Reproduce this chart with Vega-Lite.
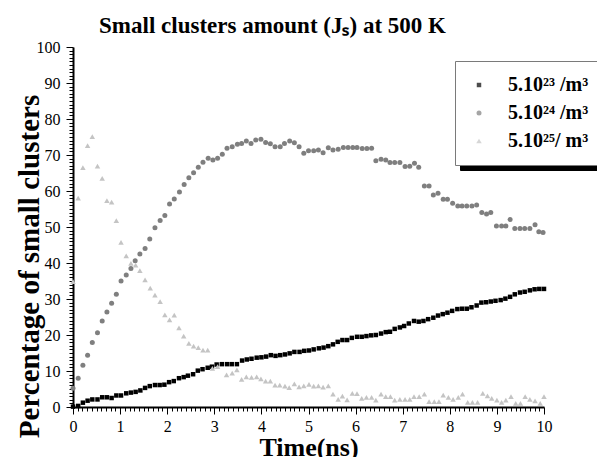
{
  "$schema": "https://vega.github.io/schema/vega-lite/v6.json",
  "width": 471,
  "height": 360,
  "autosize": {"type": "none"},
  "padding": {"left": 73, "top": 47, "right": 53, "bottom": 50},
  "background": "white",
  "title": {
    "text": "Small clusters amount (Jₛ) at 500 K",
    "font": "Liberation Serif",
    "fontSize": 23,
    "fontWeight": "bold",
    "color": "#000000",
    "anchor": "middle",
    "frame": "group",
    "dx": -36,
    "dy": 25,
    "baseline": "alphabetic",
    "offset": 8
  },
  "config": {
    "view": {"stroke": null},
    "axis": {
      "grid": false,
      "domainColor": "#000000",
      "domainWidth": 2,
      "tickColor": "#000000",
      "tickWidth": 1,
      "labelFont": "Liberation Serif",
      "labelFontSize": 16,
      "labelColor": "#000000",
      "labelOverlap": false,
      "labelFlush": false,
      "titleFont": "Liberation Serif",
      "titleFontWeight": "bold",
      "titleColor": "#000000"
    }
  },
  "data": {
    "values": [
      {"s": "a", "t": 0.00, "v": 0.1}, {"s": "a", "t": 0.11, "v": 0.3}, {"s": "a", "t": 0.21, "v": 1.2}, {"s": "a", "t": 0.31, "v": 1.75},
      {"s": "a", "t": 0.41, "v": 2.1}, {"s": "a", "t": 0.52, "v": 2.1}, {"s": "a", "t": 0.62, "v": 2.7}, {"s": "a", "t": 0.72, "v": 2.7},
      {"s": "a", "t": 0.82, "v": 2.5}, {"s": "a", "t": 0.92, "v": 3.2}, {"s": "a", "t": 1.02, "v": 3.2}, {"s": "a", "t": 1.13, "v": 3.8},
      {"s": "a", "t": 1.23, "v": 4.0}, {"s": "a", "t": 1.33, "v": 4.2}, {"s": "a", "t": 1.43, "v": 4.6}, {"s": "a", "t": 1.53, "v": 5.3},
      {"s": "a", "t": 1.63, "v": 5.8}, {"s": "a", "t": 1.74, "v": 6.1}, {"s": "a", "t": 1.84, "v": 6.1}, {"s": "a", "t": 1.94, "v": 6.2},
      {"s": "a", "t": 2.04, "v": 6.9}, {"s": "a", "t": 2.14, "v": 7.2}, {"s": "a", "t": 2.25, "v": 8.0}, {"s": "a", "t": 2.35, "v": 8.3},
      {"s": "a", "t": 2.44, "v": 8.7}, {"s": "a", "t": 2.55, "v": 9.1}, {"s": "a", "t": 2.65, "v": 10.1}, {"s": "a", "t": 2.75, "v": 10.5},
      {"s": "a", "t": 2.86, "v": 10.9}, {"s": "a", "t": 2.95, "v": 11.2}, {"s": "a", "t": 3.05, "v": 11.8}, {"s": "a", "t": 3.16, "v": 11.9},
      {"s": "a", "t": 3.27, "v": 11.9}, {"s": "a", "t": 3.37, "v": 11.9}, {"s": "a", "t": 3.48, "v": 11.9}, {"s": "a", "t": 3.59, "v": 12.9},
      {"s": "a", "t": 3.69, "v": 13.2}, {"s": "a", "t": 3.79, "v": 13.4}, {"s": "a", "t": 3.90, "v": 13.7}, {"s": "a", "t": 4.00, "v": 13.8},
      {"s": "a", "t": 4.10, "v": 14.0}, {"s": "a", "t": 4.20, "v": 14.4}, {"s": "a", "t": 4.30, "v": 14.2}, {"s": "a", "t": 4.40, "v": 14.4},
      {"s": "a", "t": 4.50, "v": 14.6}, {"s": "a", "t": 4.60, "v": 14.9}, {"s": "a", "t": 4.70, "v": 15.3}, {"s": "a", "t": 4.81, "v": 15.3},
      {"s": "a", "t": 4.91, "v": 15.6}, {"s": "a", "t": 5.01, "v": 15.7}, {"s": "a", "t": 5.11, "v": 16.0}, {"s": "a", "t": 5.22, "v": 16.3},
      {"s": "a", "t": 5.32, "v": 16.5}, {"s": "a", "t": 5.42, "v": 16.9}, {"s": "a", "t": 5.52, "v": 17.4}, {"s": "a", "t": 5.62, "v": 18.1},
      {"s": "a", "t": 5.72, "v": 18.6}, {"s": "a", "t": 5.82, "v": 18.6}, {"s": "a", "t": 5.92, "v": 19.2}, {"s": "a", "t": 6.03, "v": 19.5},
      {"s": "a", "t": 6.13, "v": 19.5}, {"s": "a", "t": 6.23, "v": 19.7}, {"s": "a", "t": 6.33, "v": 19.9}, {"s": "a", "t": 6.43, "v": 20.0},
      {"s": "a", "t": 6.54, "v": 20.4}, {"s": "a", "t": 6.64, "v": 20.8}, {"s": "a", "t": 6.73, "v": 20.9}, {"s": "a", "t": 6.83, "v": 21.7},
      {"s": "a", "t": 6.94, "v": 22.1}, {"s": "a", "t": 7.03, "v": 22.5}, {"s": "a", "t": 7.13, "v": 23.2}, {"s": "a", "t": 7.24, "v": 23.9},
      {"s": "a", "t": 7.34, "v": 23.7}, {"s": "a", "t": 7.44, "v": 23.9}, {"s": "a", "t": 7.54, "v": 24.4}, {"s": "a", "t": 7.65, "v": 24.8},
      {"s": "a", "t": 7.75, "v": 25.4}, {"s": "a", "t": 7.85, "v": 25.8}, {"s": "a", "t": 7.95, "v": 26.2}, {"s": "a", "t": 8.05, "v": 26.7},
      {"s": "a", "t": 8.16, "v": 27.2}, {"s": "a", "t": 8.26, "v": 27.3}, {"s": "a", "t": 8.36, "v": 27.3}, {"s": "a", "t": 8.46, "v": 27.7},
      {"s": "a", "t": 8.57, "v": 28.2}, {"s": "a", "t": 8.67, "v": 29.0}, {"s": "a", "t": 8.77, "v": 29.1}, {"s": "a", "t": 8.87, "v": 29.3},
      {"s": "a", "t": 8.97, "v": 29.5}, {"s": "a", "t": 9.08, "v": 29.7}, {"s": "a", "t": 9.18, "v": 30.1}, {"s": "a", "t": 9.28, "v": 30.6},
      {"s": "a", "t": 9.38, "v": 31.3}, {"s": "a", "t": 9.49, "v": 31.8}, {"s": "a", "t": 9.59, "v": 32.0}, {"s": "a", "t": 9.70, "v": 32.4},
      {"s": "a", "t": 9.80, "v": 32.7}, {"s": "a", "t": 9.90, "v": 32.8}, {"s": "a", "t": 10.00, "v": 32.8},

      {"s": "b", "t": 0.00, "v": 5.2}, {"s": "b", "t": 0.11, "v": 8.0}, {"s": "b", "t": 0.21, "v": 11.6}, {"s": "b", "t": 0.31, "v": 14.4},
      {"s": "b", "t": 0.41, "v": 17.9}, {"s": "b", "t": 0.52, "v": 20.6}, {"s": "b", "t": 0.62, "v": 23.9}, {"s": "b", "t": 0.72, "v": 26.4},
      {"s": "b", "t": 0.82, "v": 28.8}, {"s": "b", "t": 0.92, "v": 31.3}, {"s": "b", "t": 1.02, "v": 35.0}, {"s": "b", "t": 1.13, "v": 36.7},
      {"s": "b", "t": 1.23, "v": 38.5}, {"s": "b", "t": 1.32, "v": 40.6}, {"s": "b", "t": 1.42, "v": 42.5}, {"s": "b", "t": 1.53, "v": 44.0},
      {"s": "b", "t": 1.63, "v": 46.7}, {"s": "b", "t": 1.74, "v": 49.8}, {"s": "b", "t": 1.85, "v": 51.8}, {"s": "b", "t": 1.95, "v": 53.2},
      {"s": "b", "t": 2.05, "v": 56.4}, {"s": "b", "t": 2.15, "v": 57.8}, {"s": "b", "t": 2.26, "v": 59.7}, {"s": "b", "t": 2.36, "v": 61.8},
      {"s": "b", "t": 2.46, "v": 63.7}, {"s": "b", "t": 2.56, "v": 65.1}, {"s": "b", "t": 2.66, "v": 66.6}, {"s": "b", "t": 2.76, "v": 68.0},
      {"s": "b", "t": 2.87, "v": 69.1}, {"s": "b", "t": 2.97, "v": 68.6}, {"s": "b", "t": 3.07, "v": 69.1}, {"s": "b", "t": 3.17, "v": 70.2},
      {"s": "b", "t": 3.27, "v": 71.9}, {"s": "b", "t": 3.38, "v": 72.3}, {"s": "b", "t": 3.49, "v": 73.0}, {"s": "b", "t": 3.58, "v": 73.2},
      {"s": "b", "t": 3.68, "v": 73.9}, {"s": "b", "t": 3.78, "v": 73.2}, {"s": "b", "t": 3.88, "v": 74.2}, {"s": "b", "t": 3.99, "v": 74.4},
      {"s": "b", "t": 4.09, "v": 73.5}, {"s": "b", "t": 4.19, "v": 73.1}, {"s": "b", "t": 4.29, "v": 72.3}, {"s": "b", "t": 4.40, "v": 72.3},
      {"s": "b", "t": 4.49, "v": 73.2}, {"s": "b", "t": 4.60, "v": 73.9}, {"s": "b", "t": 4.70, "v": 73.4}, {"s": "b", "t": 4.80, "v": 72.3},
      {"s": "b", "t": 4.90, "v": 70.5}, {"s": "b", "t": 5.00, "v": 71.2}, {"s": "b", "t": 5.11, "v": 71.2}, {"s": "b", "t": 5.21, "v": 71.4},
      {"s": "b", "t": 5.31, "v": 70.6}, {"s": "b", "t": 5.42, "v": 72.0}, {"s": "b", "t": 5.52, "v": 71.4}, {"s": "b", "t": 5.63, "v": 71.6},
      {"s": "b", "t": 5.74, "v": 72.1}, {"s": "b", "t": 5.84, "v": 72.1}, {"s": "b", "t": 5.94, "v": 72.1}, {"s": "b", "t": 6.03, "v": 72.1},
      {"s": "b", "t": 6.14, "v": 71.8}, {"s": "b", "t": 6.24, "v": 71.8}, {"s": "b", "t": 6.34, "v": 71.9}, {"s": "b", "t": 6.43, "v": 68.4},
      {"s": "b", "t": 6.54, "v": 68.8}, {"s": "b", "t": 6.64, "v": 68.6}, {"s": "b", "t": 6.73, "v": 67.9}, {"s": "b", "t": 6.83, "v": 67.9},
      {"s": "b", "t": 6.94, "v": 67.9}, {"s": "b", "t": 7.05, "v": 66.8}, {"s": "b", "t": 7.15, "v": 66.9}, {"s": "b", "t": 7.25, "v": 67.7},
      {"s": "b", "t": 7.34, "v": 66.6}, {"s": "b", "t": 7.46, "v": 61.4}, {"s": "b", "t": 7.56, "v": 61.4}, {"s": "b", "t": 7.65, "v": 58.9},
      {"s": "b", "t": 7.75, "v": 59.4}, {"s": "b", "t": 7.86, "v": 57.7}, {"s": "b", "t": 7.95, "v": 57.7}, {"s": "b", "t": 8.06, "v": 56.6},
      {"s": "b", "t": 8.17, "v": 55.8}, {"s": "b", "t": 8.26, "v": 55.8}, {"s": "b", "t": 8.36, "v": 55.8}, {"s": "b", "t": 8.47, "v": 55.8},
      {"s": "b", "t": 8.57, "v": 56.1}, {"s": "b", "t": 8.68, "v": 54.0}, {"s": "b", "t": 8.78, "v": 53.6}, {"s": "b", "t": 8.87, "v": 54.0},
      {"s": "b", "t": 8.99, "v": 50.3}, {"s": "b", "t": 9.10, "v": 50.3}, {"s": "b", "t": 9.19, "v": 50.3}, {"s": "b", "t": 9.28, "v": 52.1},
      {"s": "b", "t": 9.38, "v": 49.6}, {"s": "b", "t": 9.49, "v": 49.6}, {"s": "b", "t": 9.59, "v": 49.6}, {"s": "b", "t": 9.70, "v": 49.6},
      {"s": "b", "t": 9.81, "v": 50.6}, {"s": "b", "t": 9.89, "v": 48.7}, {"s": "b", "t": 9.98, "v": 48.5},

      {"s": "c", "t": 0.00, "v": 34.8}, {"s": "c", "t": 0.11, "v": 58.0}, {"s": "c", "t": 0.21, "v": 66.5}, {"s": "c", "t": 0.31, "v": 72.6},
      {"s": "c", "t": 0.41, "v": 75.1}, {"s": "c", "t": 0.52, "v": 66.9}, {"s": "c", "t": 0.62, "v": 63.5}, {"s": "c", "t": 0.72, "v": 57.3},
      {"s": "c", "t": 0.82, "v": 56.9}, {"s": "c", "t": 0.92, "v": 51.8}, {"s": "c", "t": 1.02, "v": 45.7}, {"s": "c", "t": 1.13, "v": 42.0},
      {"s": "c", "t": 1.23, "v": 39.9}, {"s": "c", "t": 1.33, "v": 39.4}, {"s": "c", "t": 1.42, "v": 37.9}, {"s": "c", "t": 1.53, "v": 35.3},
      {"s": "c", "t": 1.64, "v": 33.0}, {"s": "c", "t": 1.74, "v": 31.1}, {"s": "c", "t": 1.85, "v": 29.3}, {"s": "c", "t": 1.95, "v": 25.6},
      {"s": "c", "t": 2.05, "v": 24.2}, {"s": "c", "t": 2.15, "v": 25.5}, {"s": "c", "t": 2.25, "v": 22.0}, {"s": "c", "t": 2.35, "v": 19.7},
      {"s": "c", "t": 2.46, "v": 17.7}, {"s": "c", "t": 2.56, "v": 16.9}, {"s": "c", "t": 2.66, "v": 16.5}, {"s": "c", "t": 2.76, "v": 15.8},
      {"s": "c", "t": 2.86, "v": 15.8}, {"s": "c", "t": 2.96, "v": 10.7}, {"s": "c", "t": 3.07, "v": 11.2}, {"s": "c", "t": 3.26, "v": 8.9},
      {"s": "c", "t": 3.38, "v": 9.4}, {"s": "c", "t": 3.48, "v": 10.3}, {"s": "c", "t": 3.58, "v": 7.7}, {"s": "c", "t": 3.68, "v": 8.4},
      {"s": "c", "t": 3.79, "v": 8.2}, {"s": "c", "t": 3.90, "v": 8.4}, {"s": "c", "t": 3.99, "v": 7.8}, {"s": "c", "t": 4.09, "v": 7.2},
      {"s": "c", "t": 4.19, "v": 7.2}, {"s": "c", "t": 4.29, "v": 6.1}, {"s": "c", "t": 4.39, "v": 6.1}, {"s": "c", "t": 4.50, "v": 5.8},
      {"s": "c", "t": 4.59, "v": 5.4}, {"s": "c", "t": 4.70, "v": 6.4}, {"s": "c", "t": 4.80, "v": 5.6}, {"s": "c", "t": 4.90, "v": 5.9},
      {"s": "c", "t": 5.01, "v": 6.3}, {"s": "c", "t": 5.11, "v": 5.8}, {"s": "c", "t": 5.21, "v": 5.9}, {"s": "c", "t": 5.31, "v": 5.5},
      {"s": "c", "t": 5.42, "v": 5.9}, {"s": "c", "t": 5.52, "v": 3.6}, {"s": "c", "t": 5.63, "v": 2.1}, {"s": "c", "t": 5.72, "v": 3.0},
      {"s": "c", "t": 5.82, "v": 2.0}, {"s": "c", "t": 5.93, "v": 3.8}, {"s": "c", "t": 6.03, "v": 3.7}, {"s": "c", "t": 6.13, "v": 2.4},
      {"s": "c", "t": 6.23, "v": 2.7}, {"s": "c", "t": 6.34, "v": 2.7}, {"s": "c", "t": 6.43, "v": 1.9}, {"s": "c", "t": 6.54, "v": 3.6},
      {"s": "c", "t": 6.64, "v": 2.9}, {"s": "c", "t": 6.74, "v": 2.9}, {"s": "c", "t": 6.83, "v": 1.9}, {"s": "c", "t": 6.94, "v": 2.1},
      {"s": "c", "t": 7.05, "v": 2.1}, {"s": "c", "t": 7.15, "v": 2.1}, {"s": "c", "t": 7.24, "v": 2.9}, {"s": "c", "t": 7.35, "v": 2.9},
      {"s": "c", "t": 7.46, "v": 3.6}, {"s": "c", "t": 7.56, "v": 1.5}, {"s": "c", "t": 7.67, "v": 1.5}, {"s": "c", "t": 7.77, "v": 1.5},
      {"s": "c", "t": 7.86, "v": 3.3}, {"s": "c", "t": 7.97, "v": 2.7}, {"s": "c", "t": 8.07, "v": 2.1}, {"s": "c", "t": 8.18, "v": 2.7},
      {"s": "c", "t": 8.27, "v": 3.6}, {"s": "c", "t": 8.38, "v": 1.3}, {"s": "c", "t": 8.48, "v": 1.3}, {"s": "c", "t": 8.59, "v": 1.3},
      {"s": "c", "t": 8.70, "v": 3.8}, {"s": "c", "t": 8.80, "v": 3.1}, {"s": "c", "t": 8.89, "v": 2.4}, {"s": "c", "t": 9.00, "v": 1.9},
      {"s": "c", "t": 9.10, "v": 1.3}, {"s": "c", "t": 9.19, "v": 1.9}, {"s": "c", "t": 9.30, "v": 2.9}, {"s": "c", "t": 9.40, "v": 1.0},
      {"s": "c", "t": 9.50, "v": 1.0}, {"s": "c", "t": 9.60, "v": 2.9}, {"s": "c", "t": 9.70, "v": 2.1}, {"s": "c", "t": 9.81, "v": 1.7},
      {"s": "c", "t": 9.92, "v": 1.0}, {"s": "c", "t": 10.00, "v": 2.9}
    ]
  },
  "mark": {"type": "point", "filled": true, "strokeWidth": 0},
  "encoding": {
    "x": {
      "field": "t",
      "type": "quantitative",
      "scale": {"domain": [0, 10], "nice": false},
      "axis": {
        "title": "Time(ns)",
        "titleFontSize": 26,
        "titleY": 48,
        "titleBaseline": "alphabetic",
        "labelPadding": 4,
        "values": [0, 0.1, 0.2, 0.3, 0.4, 0.5, 0.6, 0.7, 0.8, 0.9, 1, 1.1, 1.2, 1.3, 1.4, 1.5, 1.6, 1.7, 1.8, 1.9, 2, 2.1, 2.2, 2.3, 2.4, 2.5, 2.6, 2.7, 2.8, 2.9, 3, 3.1, 3.2, 3.3, 3.4, 3.5, 3.6, 3.7, 3.8, 3.9, 4, 4.1, 4.2, 4.3, 4.4, 4.5, 4.6, 4.7, 4.8, 4.9, 5, 5.1, 5.2, 5.3, 5.4, 5.5, 5.6, 5.7, 5.8, 5.9, 6, 6.1, 6.2, 6.3, 6.4, 6.5, 6.6, 6.7, 6.8, 6.9, 7, 7.1, 7.2, 7.3, 7.4, 7.5, 7.6, 7.7, 7.8, 7.9, 8, 8.1, 8.2, 8.3, 8.4, 8.5, 8.6, 8.7, 8.8, 8.9, 9, 9.1, 9.2, 9.3, 9.4, 9.5, 9.6, 9.7, 9.8, 9.9, 10],
        "labelExpr": "abs(datum.value - round(datum.value)) < 0.01 ? format(datum.value, 'd') : ''",
        "tickSize": {"condition": {"test": "abs(datum.value - round(datum.value)) < 0.01", "value": 7}, "value": 4}
      }
    },
    "y": {
      "field": "v",
      "type": "quantitative",
      "scale": {"domain": [0, 100], "nice": false},
      "axis": {
        "title": "Percentage of small clusters",
        "titleFontSize": 29,
        "titleAngle": -90,
        "titleX": -35,
        "titleY": 219,
        "titleAlign": "center",
        "titleBaseline": "alphabetic",
        "labelPadding": 6,
        "values": [0, 1, 2, 3, 4, 5, 6, 7, 8, 9, 10, 11, 12, 13, 14, 15, 16, 17, 18, 19, 20, 21, 22, 23, 24, 25, 26, 27, 28, 29, 30, 31, 32, 33, 34, 35, 36, 37, 38, 39, 40, 41, 42, 43, 44, 45, 46, 47, 48, 49, 50, 51, 52, 53, 54, 55, 56, 57, 58, 59, 60, 61, 62, 63, 64, 65, 66, 67, 68, 69, 70, 71, 72, 73, 74, 75, 76, 77, 78, 79, 80, 81, 82, 83, 84, 85, 86, 87, 88, 89, 90, 91, 92, 93, 94, 95, 96, 97, 98, 99, 100],
        "labelExpr": "datum.value % 10 === 0 ? format(datum.value, 'd') : ''",
        "tickSize": {"condition": {"test": "datum.value % 10 === 0", "value": 7}, "value": 4}
      }
    },
    "color": {
      "field": "s",
      "type": "nominal",
      "scale": {"domain": ["a", "b", "c"], "range": ["#000000", "#7f7f7f", "#c4c4c4"]},
      "legend": {
        "title": null,
        "orient": "none",
        "legendX": 382,
        "legendY": 14,
        "zindex": 2,
        "padding": 14,
        "strokeColor": "#7a7a7a",
        "fillColor": "#ffffff",
        "symbolSize": 34,
        "symbolOffset": 0,
        "labelOffset": 19,
        "rowPadding": 8,
        "labelFont": "Liberation Serif",
        "labelFontSize": 20,
        "labelFontWeight": "bold",
        "labelColor": "#000000",
        "labelLimit": 0,
        "labelExpr": "datum.value === 'a' ? '5.10²³ /m³' : datum.value === 'b' ? '5.10²⁴ /m³' : '5.10²⁵/ m³'"
      }
    },
    "shape": {
      "field": "s",
      "type": "nominal",
      "scale": {"domain": ["a", "b", "c"], "range": ["square", "circle", "triangle-up"]},
      "legend": {
        "title": null,
        "orient": "none",
        "legendX": 382,
        "legendY": 14,
        "zindex": 2,
        "padding": 14,
        "strokeColor": "#7a7a7a",
        "fillColor": "#ffffff",
        "symbolSize": 34,
        "symbolOffset": 0,
        "labelOffset": 19,
        "rowPadding": 8,
        "labelFont": "Liberation Serif",
        "labelFontSize": 20,
        "labelFontWeight": "bold",
        "labelColor": "#000000",
        "labelLimit": 0,
        "labelExpr": "datum.value === 'a' ? '5.10²³ /m³' : datum.value === 'b' ? '5.10²⁴ /m³' : '5.10²⁵/ m³'"
      }
    },
    "size": {
      "field": "s",
      "type": "nominal",
      "scale": {"domain": ["a", "b", "c"], "range": [20, 30, 30]},
      "legend": null
    },
    "opacity": {
      "field": "s",
      "type": "nominal",
      "scale": {"domain": ["a", "b", "c", "z"], "range": [1, 1, 1, 1]},
      "legend": {
        "title": null,
        "values": ["a", "b", "c"],
        "orient": "none",
        "legendX": 387,
        "legendY": 19,
        "zindex": 1,
        "padding": 14,
        "strokeColor": "#000000",
        "fillColor": "#000000",
        "symbolType": "square",
        "symbolSize": 30,
        "symbolFillColor": "#000000",
        "symbolStrokeColor": "#000000",
        "symbolOffset": 0,
        "labelOffset": 100,
        "rowPadding": 8,
        "labelFont": "Liberation Serif",
        "labelFontSize": 20,
        "labelFontWeight": "bold",
        "labelColor": "#000000",
        "labelLimit": 0,
        "labelExpr": "'\u00a0'"
      }
    }
  }
}
